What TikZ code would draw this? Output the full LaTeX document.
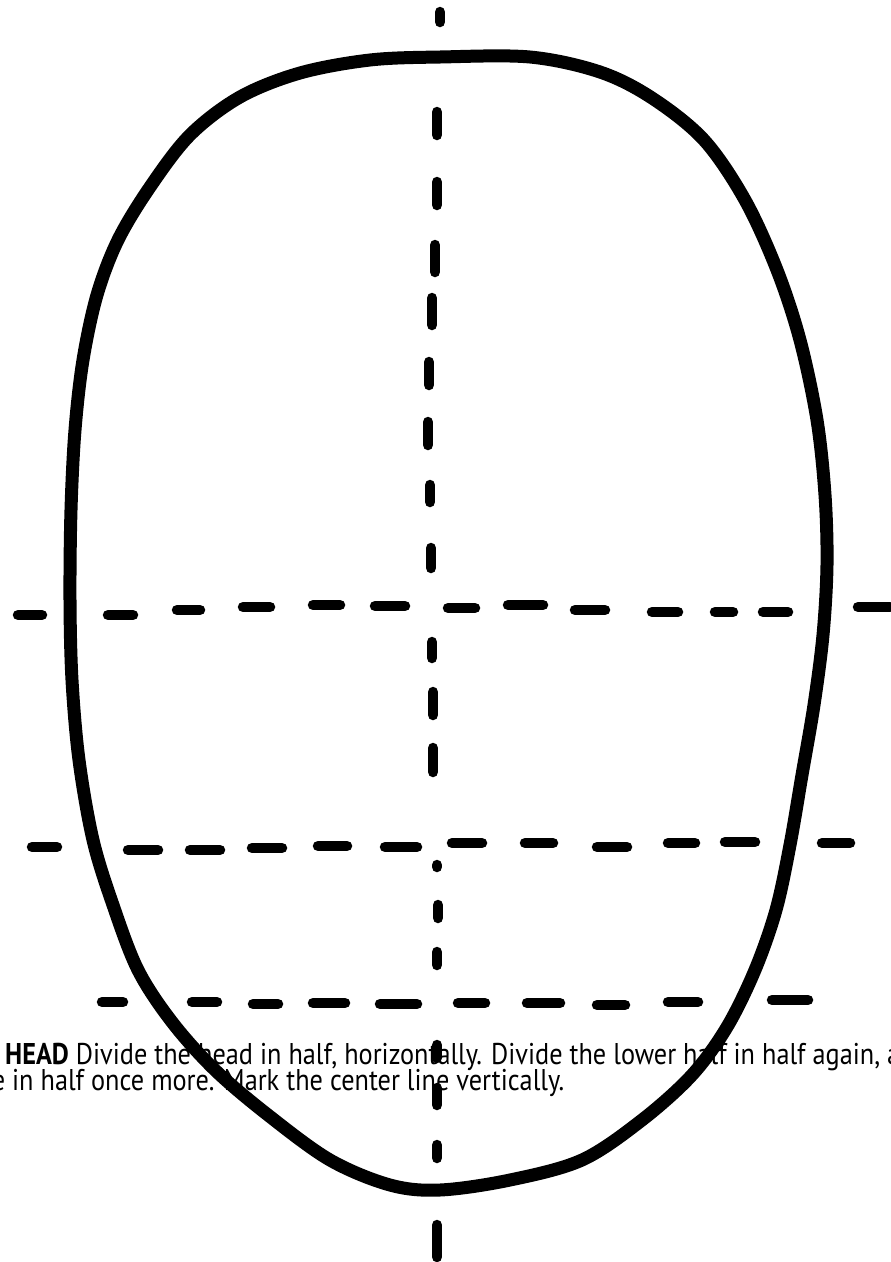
\documentclass[tikz,border=0pt]{standalone}
\usepackage{fontspec}
\newfontfamily\capfont{PT Sans}
\newlength\capwa
\newlength\capwb
\begin{document}%
\settowidth{\capwa}{\capfont\fontsize{30}{30}\selectfont\textbf{HEAD} Divide the head in half, horizontally. Divide the lower half in half again,}%
\settowidth{\capwb}{\capfont\fontsize{30}{30}\selectfont e\ }%
\pgfmathsetmacro{\capsx}{875/\capwa}%
\pgfmathsetmacro{\capxb}{12-\capsx*\capwb}%
\begin{tikzpicture}[x=1pt,y=-1pt,
  outline/.style={line width=13pt, line join=round, line cap=round},
  dsh/.style={line width=10.5pt, line cap=round}]
\useasboundingbox (0,0) rectangle (891,1262);
\clip (0,0) rectangle (891,1262);
\fill[white] (0,0) rectangle (891,1262);
% caption
\node[anchor=base west, inner sep=0] (line1) at (5,1064)
  {\scalebox{\capsx}[1]{\capfont\fontsize{30}{30}\selectfont\textbf{HEAD} Divide the head in half, horizontally. Divide the lower half in half again, a}};
\node[anchor=base west, inner sep=0] (line2) at (\capxb,1090)
  {\scalebox{\capsx}[1]{\capfont\fontsize{30}{30}\selectfont e in half once more. Mark the center line vertically.}};
% head outline
\draw[outline] plot[smooth cycle, tension=0.55] coordinates {
 (440,57) (370,60) (300,73) (240,97) (190,135) (150,187) (118,240) (97,295)
 (83,360) (75,430) (71,510) (70,600) (72,680) (79,760) (93,840) (113,905)
 (138,970) (172,1022) (215,1070) (268,1115) (330,1160) (390,1185) (440,1190)
 (510,1180) (582,1160) (642,1120) (692,1075) (727,1027) (755,970) (776,910)
 (790,845) (802,775) (814,705) (823,635) (827,565) (825,495) (817,420)
 (800,340) (777,270) (745,200) (704,140) (652,98) (600,72) (530,57)};
% vertical centre line
\foreach \x/\a/\b in {440/7/27, 437/107/140, 437/177/210, 435/240/277, 432/293/330,
  429/357/390, 428/417/450, 430/480/507, 431/543/573, 432/637/663, 433/687/720,
  433/743/777, 438/900/923, 437/947/970, 437/1040/1063, 437/1083/1110,
  437/1140/1163, 437/1220/1262}
  \draw[dsh] (\x,\a+5) -- (\x,\b-5);
\draw[dsh] (437,865) -- (437,867);
% horizontal lines
\foreach \a/\b/\y in {13/47/615, 103/138/615, 172/205/610, 238/275/607, 308/345/605,
  370/410/606, 443/480/608, 503/548/605, 570/610/610, 647/683/612, 710/738/612,
  758/793/612, 853/895/607,
  27/62/847, 123/163/850, 185/225/850, 247/287/848, 313/352/846, 380/422/847,
  447/487/843, 520/558/843, 592/632/847, 663/700/843, 720/760/842, 817/855/843,
  97/128/1002, 187/222/1002, 248/283/1004, 308/350/1003, 375/422/1004,
  453/490/1003, 522/565/1003, 592/630/1005, 663/703/1002, 767/813/1000}
  \draw[dsh] (\a+5,\y) -- (\b-5,\y);
\end{tikzpicture}%
\end{document}
